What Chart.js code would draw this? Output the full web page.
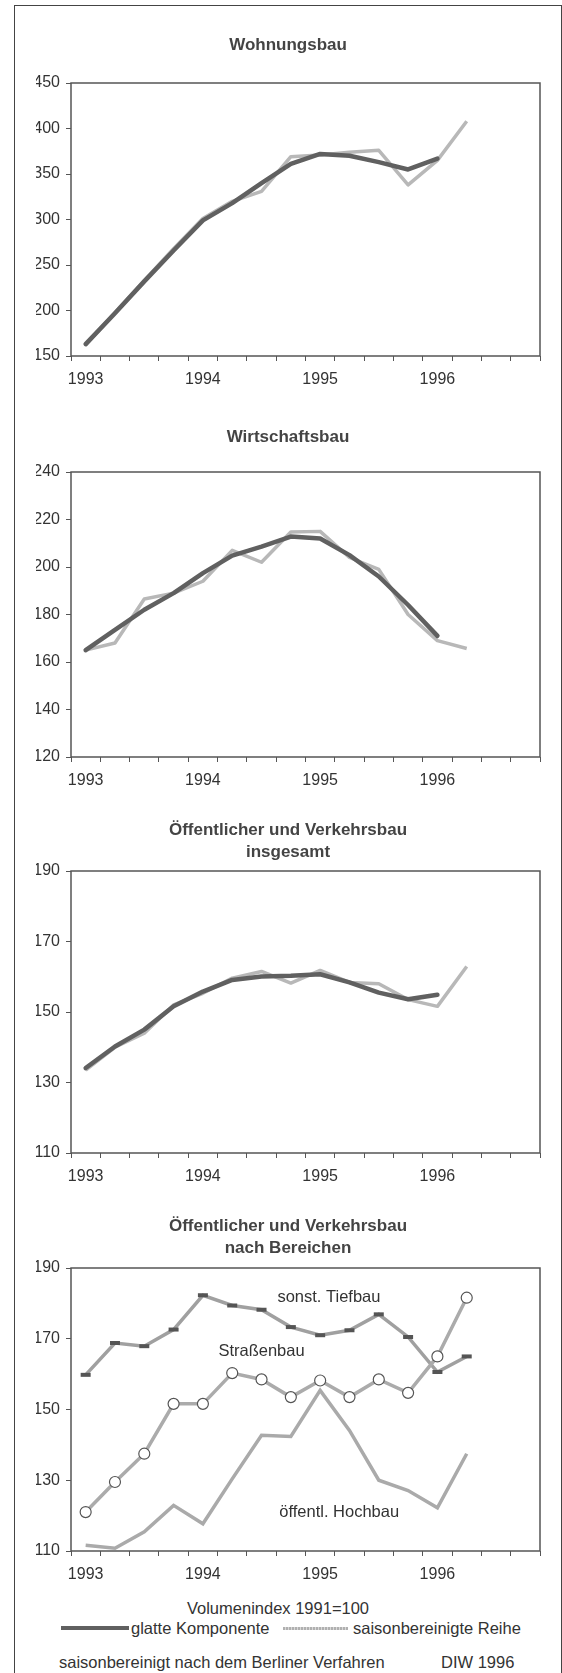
<!DOCTYPE html>
<html>
<head>
<meta charset="utf-8">
<script src="https://cdn.jsdelivr.net/npm/chart.js@4"></script>
<style>
  html, body { margin:0; padding:0; background:#fff; }
  body { width:562px; height:1673px; position:relative; overflow:hidden; font-family:"Liberation Sans", Arial, sans-serif; color:#333; }
  #frame { position:absolute; left:14px; top:5px; width:546px; height:1700px; border:1.5px solid #444; border-bottom:none; }
  canvas { position:absolute; left:15px; }
  .txt { position:absolute; white-space:nowrap; font-size:16px; line-height:20px; color:#333; }
</style>
</head>
<body>
<div id="frame"></div>
<canvas id="c1" width="546" height="362" style="top:34px"></canvas>
<canvas id="c2" width="546" height="371" style="top:426px"></canvas>
<canvas id="c3" width="546" height="374" style="top:819px"></canvas>
<canvas id="c4" width="546" height="376" style="top:1215px"></canvas>

<div class="txt" style="left:0;width:556px;text-align:center;top:1598px;font-size:16.5px;">Volumenindex 1991=100</div>
<div style="position:absolute;left:61px;top:1626px;width:68px;height:4px;background:#606060;"></div>
<div class="txt" style="left:131px;top:1618px;font-size:16.5px;">glatte Komponente</div>
<div style="position:absolute;left:283px;top:1627px;width:65px;height:3px;background:repeating-linear-gradient(90deg,#b0b0b0 0 2px,#d8d8d8 2px 3px);"></div>
<div class="txt" style="left:353px;top:1618px;font-size:16.5px;">saisonbereinigte Reihe</div>
<div class="txt" style="left:59px;top:1652px;font-size:16.5px;">saisonbereinigt nach dem Berliner Verfahren</div>
<div class="txt" style="left:441px;top:1652px;font-size:16.5px;">DIW 1996</div>

<script>
// ---- categories (quarters 1993 I .. 1996 IV) ----
const quarters = ['1993 I','1993 II','1993 III','1993 IV','1994 I','1994 II','1994 III','1994 IV',
                  '1995 I','1995 II','1995 III','1995 IV','1996 I','1996 II','1996 III','1996 IV'];
const xTickLabels = ['1993','','','','1994','','','','1995','','','','1996','','',''];

// ---- Wohnungsbau ----
const wohnSmooth = [163, 197, 232, 266, 299, 318, 340, 361, 372, 370, 363, 355, 367, null, null, null];
const wohnRaw    = [162, 198, 233, 268, 301, 320, 331, 369, 371, 374, 376, 338, 365, 408, null, null];
const wohnTicks  = {min:150, max:450, step:50};

// ---- Wirtschaftsbau ----
const wirtSmooth = [165, 173.5, 182, 189, 197.4, 204.8, 208.6, 212.8, 212, 205, 196, 184, 171, null, null, null];
const wirtRaw    = [165, 168, 186.5, 189, 194, 207, 202, 214.7, 215, 204, 199, 180, 169, 165.7, null, null];
const wirtTicks  = {min:120, max:240, step:20};

// ---- Öffentlicher und Verkehrsbau insgesamt ----
const oeffSmooth = [134.1, 140.2, 145, 151.6, 155.8, 159.1, 160.1, 160.3, 160.7, 158.4, 155.5, 153.6, 154.9, null, null, null];
const oeffRaw    = [133.5, 140, 144, 152, 155.3, 159.6, 161.5, 158.2, 161.8, 158.4, 158, 153.5, 151.6, 162.9, null, null];
const oeffTicks  = {min:110, max:190, step:20};

// ---- nach Bereichen ----
const tiefbau    = [159.8, 168.8, 167.9, 172.6, 182.3, 179.4, 178.2, 173.3, 171, 172.4, 176.9, 170.5, 160.6, 165, null, null];
const strassenbau= [121, 129.5, 137.5, 151.6, 151.6, 160.3, 158.5, 153.5, 158.2, 153.5, 158.5, 154.7, 165, 181.6, null, null];
const hochbau    = [111.6, 110.8, 115.4, 122.9, 117.7, 130.4, 142.7, 142.4, 155.4, 144.1, 130, 127.1, 122.2, 137.5, null, null];
const bereichTicks = {min:110, max:190, step:20};
const bereichLabels = [
  {text:'sonst. Tiefbau',   x:8.3,  y:181.8},
  {text:'Straßenbau',       x:6.0,  y:166.5},
  {text:'öffentl. Hochbau', x:8.65, y:121}
];

const FONT = '"Liberation Sans", Arial, sans-serif';
Chart.defaults.font.family = FONT;
Chart.defaults.color = '#333';

const framePlugin = {
  id: 'plotFrame',
  beforeDatasetsDraw(chart) {
    const a = chart.chartArea, ctx = chart.ctx;
    ctx.save();
    ctx.strokeStyle = '#555';
    ctx.lineWidth = 1.5;
    ctx.strokeRect(a.left, a.top, a.right - a.left, a.bottom - a.top);
    ctx.restore();
  },
  afterDatasetsDraw(chart, args, opts) {
    const items = opts && opts.items;
    if (!items) return;
    const ctx = chart.ctx, xs = chart.scales.x, ys = chart.scales.y;
    ctx.save();
    ctx.font = '16.5px ' + FONT;
    ctx.fillStyle = '#333';
    ctx.textAlign = 'center';
    ctx.textBaseline = 'middle';
    items.forEach(it => ctx.fillText(it.text, xs.getPixelForValue(it.x), ys.getPixelForValue(it.y)));
    ctx.restore();
  }
};

function makeChart(id, title, titlePadBottom, ticks, datasets, labelItems) {
  return new Chart(document.getElementById(id), {
    type: 'line',
    data: { labels: quarters, datasets: datasets },
    options: {
      responsive: false,
      animation: false,
      devicePixelRatio: 1,
      layout: { padding: { left: 21, right: 21, top: 0, bottom: 0 }, autoPadding: false },
      plugins: {
        legend: { display: false },
        tooltip: { enabled: false },
        title: {
          display: true, text: title, color: '#444',
          font: { size: 17, weight: 'bold', lineHeight: 1.3 },
          padding: { top: 0, bottom: titlePadBottom }
        },
        plotFrame: { items: labelItems || null }
      },
      scales: {
        x: {
          type: 'category', offset: true,
          grid: { offset: true, drawOnChartArea: false, tickLength: 5, color: '#555', lineWidth: 1 },
          border: { display: false },
          ticks: { autoSkip: false, maxRotation: 0, minRotation: 0, padding: 9,
                   font: { size: 16 }, color: '#333',
                   callback: (v, i) => xTickLabels[i] },
          afterFit: s => { s.height = 40; }
        },
        y: {
          type: 'linear', min: ticks.min, max: ticks.max,
          grid: { drawOnChartArea: false, tickLength: 5, color: '#555', lineWidth: 1 },
          border: { display: false },
          ticks: { stepSize: ticks.step, padding: 6, font: { size: 16 }, color: '#333' },
          afterFit: s => { s.width = 35; }
        }
      }
    },
    plugins: [framePlugin]
  });
}

function pair(smooth, raw) {
  return [
    { label: 'glatte Komponente', data: smooth, borderColor: '#606060', borderWidth: 4.5,
      pointRadius: 0, tension: 0, order: 0, borderCapStyle: 'round', borderJoinStyle: 'round' },
    { label: 'saisonbereinigte Reihe', data: raw, borderColor: '#b8b8b8', borderWidth: 3.5,
      pointRadius: 0, tension: 0, order: 1, borderJoinStyle: 'round' }
  ];
}

makeChart('c1', 'Wohnungsbau', 26.9, wohnTicks, pair(wohnSmooth, wohnRaw));
makeChart('c2', 'Wirtschaftsbau', 23.9, wirtTicks, pair(wirtSmooth, wirtRaw));
makeChart('c3', ['Öffentlicher und Verkehrsbau', 'insgesamt'], 7.8, oeffTicks, pair(oeffSmooth, oeffRaw));
makeChart('c4', ['Öffentlicher und Verkehrsbau', 'nach Bereichen'], 8.8, bereichTicks, [
  { label: 'sonst. Tiefbau', data: tiefbau, borderColor: '#a0a0a0', borderWidth: 3.5, tension: 0, order: 1,
    pointStyle: 'line', pointRadius: 5, pointBorderWidth: 4, pointBorderColor: '#555', pointBackgroundColor: '#555' },
  { label: 'Straßenbau', data: strassenbau, borderColor: '#ababab', borderWidth: 3.5, tension: 0, order: 0,
    pointStyle: 'circle', pointRadius: 5.5, pointBorderWidth: 1.2, pointBorderColor: '#555', pointBackgroundColor: '#fff' },
  { label: 'öffentl. Hochbau', data: hochbau, borderColor: '#aaaaaa', borderWidth: 3.5, tension: 0, order: 2,
    pointRadius: 0 }
], bereichLabels);
</script>
</body>
</html>
